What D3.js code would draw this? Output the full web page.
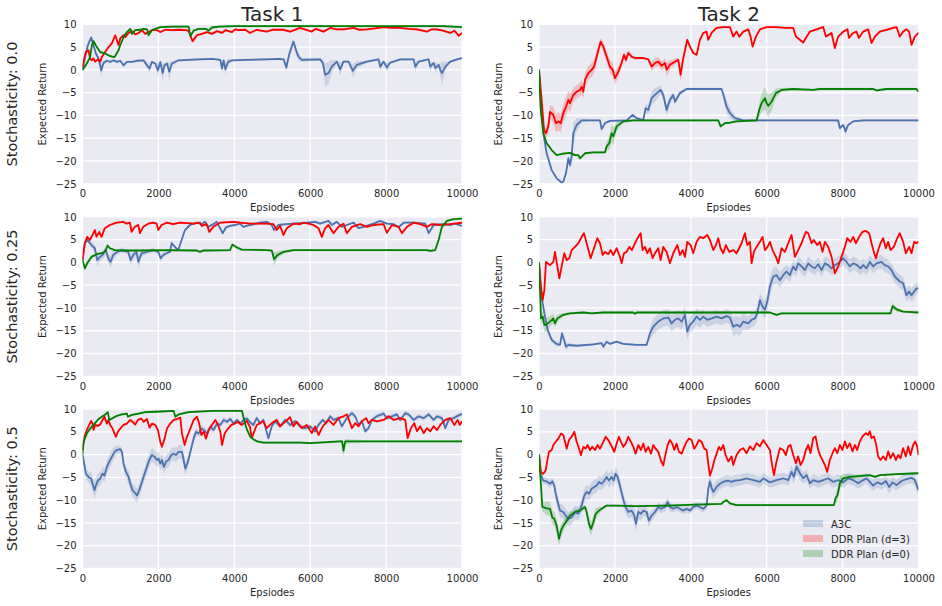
<!DOCTYPE html>
<html>
<head>
<meta charset="utf-8">
<script src="https://cdn.jsdelivr.net/npm/d3@7"></script>
<style>
  body { margin: 0; background: #fff; }
  text { font-family: "DejaVu Sans", sans-serif; fill: #262626; }
</style>
</head>
<body>
<div id="chart-area"></div>
<script>
// axis ticks and labels
var xTicks = [0, 2000, 4000, 6000, 8000, 10000];
var yTicks = [-25, -20, -15, -10, -5, 0, 5, 10];
var taskTitles = ["Task 1", "Task 2"];
var rowLabels = ["Stochasticity: 0.0", "Stochasticity: 0.25", "Stochasticity: 0.5"];
var seriesNames = ["A3C", "DDR Plan (d=3)", "DDR Plan (d=0)"];
var seriesColors = ["#4c72b0", "#ff0000", "#008000"];

// [episode, mean return, band half-width]
var a3c_s00_t1 = [[0,0,.2],[70,2.8,.5],[141,5.4,.8],[229,7.1,.5],[290,5.4,.5],[352,3.6,.4],[422,2.5,.4],[493,-0.1,1.5],[554,1.5,.6],[642,2.0],[730,1.75],[818,2.1],[906,1.75],[994,2.0],[1082,1.0,.5],[1170,1.75],[1302,1.75],[1434,2.0],[1610,2.1],[1698,1.0,.8],[1768,0.3,1],[1829,1.75],[1917,1.4],[1988,-0.1,1.5],[2050,1.75],[2111,-0.7,2],[2164,1.0,.6],[2225,1.4],[2287,-0.4,2],[2357,1.4,.5],[2533,2.1],[2797,2.2],[3060,2.3],[3412,2.4],[3632,2.2],[3676,0.3,1.2],[3720,2.1],[3764,0.1,1.2],[3835,1.75,.8],[3940,2.1],[4292,2.2],[4820,2.3],[5172,2.4],[5300,2.3],[5370,0.5,1],[5450,3.5,.8],[5558,6.2,.5],[5640,4.0,.8],[5690,2.9,.8],[5778,2.2,.5],[6262,2.3],[6332,1.5,.8],[6394,-1.1,2.5],[6482,-0.7,2.5],[6570,0.7,1.5],[6702,1.8],[6790,0.1,1.5],[6878,1.8],[7010,1.8],[7124,-0.2,1.5],[7230,1.1,.8],[7493,1.8],[7801,2.3],[7845,0.7,1],[7933,1.8],[8021,0.5,1],[8109,1.6],[8373,2.3],[8725,2.3],[8769,0.7,1],[8857,1.8],[9120,2.3],[9164,0.7,1],[9252,1.5],[9296,0.4,1.2],[9384,1.1],[9428,0,1.5],[9472,-0.7,2.5],[9560,0.7,1],[9692,1.8],[9868,2.3],[10000,2.6]];
var plan3_s00_t1 = [[0,0.6],[53,2.8],[88,3.9],[158,4.3],[200,2.5],[246,2.1],[290,2.5],[334,1.8],[404,2.3],[466,1.8],[510,2.8],[598,3.9],[686,5.0],[774,5.8],[862,7.6],[906,6.5],[950,5.4],[994,6.9],[1082,7.6],[1126,7.2],[1214,8.1],[1302,8.5],[1390,7.8],[1478,8.1],[1566,8.7],[1654,7.9],[1741,8.3],[1829,8.7],[1961,8.7],[2050,8.3],[2181,8.8],[2357,8.7],[2533,8.8],[2709,8.7],[2790,8.6],[2841,7.6,.4],[2900,6.3,.5],[3016,7.6],[3148,7.9],[3280,8.3],[3412,7.9],[3544,8.5],[3676,8.1],[3764,8.7],[3940,8.3],[4019,8.9],[4116,8.7],[4292,8.8],[4415,8.1],[4591,8.8],[4855,8.4],[5000,8.8],[5295,8.8],[5470,8.4],[5734,9.2],[6042,8.4],[6150,9.0],[6350,8.4],[6526,9.2],[6700,8.9],[6878,8.9],[7142,9.2],[7300,8.8],[7493,8.9],[7700,9.1],[7933,9.4],[8150,9.2],[8373,9.2],[8600,9.0],[8813,8.9],[9077,8.4],[9200,8.9],[9340,8.9],[9500,8.6],[9692,8.1],[9800,8.6],[9912,7.5],[10000,8.1]];
var plan0_s00_t1 = [[0,0],[114,1.4],[200,2.8],[246,5.4],[290,6.3],[378,5.0],[466,3.9],[598,3.6],[730,3.0],[844,2.8],[906,3.7],[950,4.3],[994,5.4],[1082,7.2],[1170,8.3],[1258,9.0],[1302,7.9],[1390,8.7],[1522,8.8],[1610,9.0],[1700,8.9],[1741,7.6],[1829,8.7],[1917,9.0],[2050,9.4],[2400,9.5],[2797,9.5],[2841,7.4,.4],[2929,8.6],[3060,9.0],[3250,9.0],[3325,8.6],[3412,9.3],[3600,9.5],[4000,9.6],[6000,9.6],[8000,9.6],[9500,9.6],[10000,9.4]];

var a3c_s00_t2 = [[0,0],[44,-6.6],[114,-13.9],[202,-18.3],[334,-22],[465,-23.8],[597,-24.7],[641,-24.5],[711,-22.7,.5],[773,-19.4,.8],[817,-20.9,1],[860,-19,1.5],[904,-13.9,2.5],[992,-12.1,1.5],[1124,-11.1,.5],[1343,-11.1],[1607,-11.1],[1651,-13.0,.5],[1738,-11.7],[1870,-11.2],[2309,-11.1],[2467,-9.9],[2572,-10.6],[2748,-11.0],[2809,-8.4,1],[2880,-8.8,1],[2967,-6.2,1.5],[3055,-5.5,1.5],[3204,-4.4,1],[3275,-5.5,1],[3363,-8.8,1.2],[3450,-6.6,1],[3538,-5.5,.6],[3582,-7.0,.6],[3714,-5.1,.5],[3889,-4.2],[4328,-4.2],[4811,-4.2],[4873,-5.9,1],[4943,-8.1,1.5],[5031,-9.5,1.2],[5162,-10.6,.6],[5382,-11.1],[7884,-11.1],[7928,-12.8,.6],[8016,-12.1],[8077,-13.5,1],[8147,-12.1],[8279,-11.3],[8543,-11.1],[10000,-11.1]];
var plan3_s00_t2 = [[0,0,.3],[70,-6.6,.8],[132,-13.2,1],[184,-13.9,1.2],[246,-12.4,1.5],[290,-9.2,1.5],[378,-9.9,1.8],[448,-11.7,2],[509,-11.3,2],[571,-11.7,2],[641,-9.5,2],[711,-8.1,2],[773,-6.6,2],[817,-7.3,2],[904,-5.5,1.5],[992,-4.8,1.5],[1080,-4.4,1.5],[1124,-3.7,1.5],[1168,-4.8,1.5],[1212,-2.2,1.5],[1299,-0.7,1.5],[1387,0,1.5],[1449,0.7,1.5],[1519,2.9,1.5],[1624,6.2,.8],[1694,5.1,1],[1782,2.9,1.2],[1870,0.7,1.5],[1940,0,1.5],[2002,-1.8,1.5],[2090,-0.4,1.2],[2177,1.5,1],[2239,3.3,.8],[2292,2.2,.8],[2353,3.7,.6],[2441,2.9,.4],[2529,2.6,.3],[2748,2.6],[2880,2.3],[2967,0.7,1],[3055,1.5,1],[3143,1.8,1],[3231,0.9,1],[3319,1.5,1],[3363,0,1.5],[3450,1.1,1],[3582,1.8,.6],[3670,2.2,.5],[3731,-1.1,1.5],[3802,2.6,1],[3907,6.6,.5],[3977,5.1],[4065,3.7],[4153,3.3],[4241,6.6],[4328,8.1],[4416,8.4],[4460,6.6],[4548,8.1],[4680,9.2],[4855,9.4],[5031,9.4],[5119,7.3],[5206,8.4],[5277,7.3],[5382,8.4],[5514,8.9],[5575,7.3],[5628,5.1,.5],[5716,7.3],[5822,8.9],[5997,9.4],[6260,9.4],[6479,9.2],[6699,9.2],[6769,7.3],[6874,6.6],[6962,6.0],[7032,7.0],[7138,8.4],[7313,8.9],[7489,9.4],[7559,7.3],[7709,8.1],[7796,4.8,.5],[7884,7.3],[8016,8.4],[8130,8.9],[8165,7.0],[8279,8.1],[8367,8.4],[8428,7.0],[8543,8.4],[8674,8.9],[8762,5.9],[8850,7.3],[8982,8.4],[9157,8.8],[9333,9.2],[9420,9.4],[9508,7.3],[9596,8.4],[9684,8.9],[9754,8.4],[9816,5.5],[9903,7.3],[10000,8.1]];
var plan0_s00_t2 = [[0,0],[44,-8.8,.5],[114,-13.9,.5],[202,-16.1,.4],[334,-17.6],[465,-18.7],[641,-18.4],[817,-18.2],[948,-18.7],[1036,-18.7],[1080,-19.4],[1212,-18.3],[1431,-18.1],[1738,-18.1],[1782,-16.8,1],[1852,-16.1,1.5],[1914,-13.9,2],[1958,-14.6,2],[2046,-12.4,1],[2221,-11.3,.4],[2485,-11.1],[4723,-11.1],[4785,-12.4,.4],[4899,-11.7],[5031,-11.6],[5206,-11.3],[5733,-11.1],[5803,-8.8,1.5],[5865,-7.3,2],[5953,-6.2,2.5],[5997,-7.3,2.5],[6040,-7.9,2.5],[6128,-7.0,2],[6242,-5.1,1],[6392,-4.4,.4],[6699,-4.2],[7226,-4.4],[7401,-4.2],[8806,-4.2],[8894,-4.5],[9157,-4.2],[9947,-4.2],[10000,-4.8]];

var a3c_s25_t1 = [[0,0.5,.3],[62,4.2,.5],[123,5.0,.5],[237,3.8,.6],[325,3.1,.8],[387,0.5,1.5],[457,1.2,1],[528,1.6,1],[615,2.7,.8],[677,0.9,1],[739,0.1,1.3],[809,1.6,1],[914,2.3,.6],[1029,2.7,.5],[1205,2.3,.5],[1266,0.5,1.2],[1337,1.6,1],[1425,2.3,.8],[1469,0.1,1.5],[1557,2.0,.8],[1689,2.3,.5],[1865,2.7,.4],[1997,2.3],[2058,0.9,.8],[2128,1.6,.6],[2216,2.0],[2304,2.3],[2348,4.2,.5],[2436,3.4],[2524,2.7],[2612,4.9],[2700,7.1],[2832,8.2],[3008,8.7],[3140,8.4],[3228,8.9],[3316,7.8],[3448,8.4],[3536,8.9],[3624,7.5],[3694,6.4],[3782,7.7],[3887,8.0],[4019,8.2],[4151,8.5],[4239,7.8],[4415,8.2],[4679,8.7],[4855,8.9],[4987,8.2],[5048,7.1],[5163,8.2],[5383,8.4],[5558,8.5],[5910,8.7],[6130,8.9],[6262,8.5],[6482,9.1],[6570,8.2],[6702,8.9],[6834,7.8],[6966,8.2],[7142,8.7],[7274,7.5],[7405,7.8],[7669,8.5],[7845,9.1],[8021,8.5],[8197,8.4],[8329,7.7],[8461,8.7],[8725,8.7],[9033,8.5],[9121,6.4],[9252,8.2],[9516,8.4],[9692,8.2],[9824,8.5],[10000,8.0]];
var plan3_s25_t1 = [[0,0.5],[62,4.2],[123,5.6],[193,4.9],[264,6.0],[325,7.1],[369,5.6],[440,6.7],[501,5.6],[589,7.5],[721,8.2],[897,8.7],[1073,8.9],[1161,8.5],[1249,8.7],[1293,6.7],[1381,7.8],[1469,8.2],[1513,6.4],[1601,7.8],[1733,8.5],[1865,8.7],[1953,8.5],[1997,7.1],[2084,8.2],[2216,8.7],[2392,8.4],[2568,8.7],[2920,8.5],[3096,8.7],[3140,8.0],[3272,8.4],[3342,6.7],[3448,7.8],[3624,8.7],[3975,8.9],[4151,8.7],[4415,8.5],[4855,8.5],[5031,8.4],[5119,7.1],[5207,8.0],[5295,6.0],[5383,7.5],[5558,8.5],[5734,8.4],[5822,8.7],[5954,8.5],[6086,8.2],[6218,7.5],[6306,5.6,.4],[6394,7.5],[6482,8.2],[6614,6.4],[6746,7.8],[6878,8.5],[6966,6.4],[7098,7.8],[7318,8.4],[7493,7.8],[7669,8.2],[7933,8.4],[8021,6.5],[8153,8.2],[8329,7.8],[8417,6.4],[8549,7.8],[8725,8.7],[8901,8.4],[9077,7.8],[9208,8.4],[9428,8.2],[9692,8.4],[10000,8.7]];
var plan0_s25_t1 = [[0,0.5],[62,-1.3,.8],[123,-0.2,.6],[237,1.2,.4],[369,1.8],[545,2.1],[615,2.7],[660,3.7],[721,3.1],[853,2.7],[1073,2.6],[1513,2.6],[2216,2.7],[3008,2.6],[3096,2.3],[3184,2.6],[3887,2.7],[3949,3.9],[4063,3.3],[4195,2.8],[4855,2.7],[4987,2.6],[5048,0.7,1.5],[5136,1.6,.8],[5295,2.3,.4],[5558,2.7],[6614,2.7],[9077,2.7],[9164,2.5],[9296,2.7],[9384,4.9],[9472,7.8],[9604,9.1],[9780,9.5],[10000,9.6]];

var a3c_s25_t2 = [[0,0],[44,-6.1,.5],[97,-9.0,.8],[158,-11.9,.8],[228,-14.8,.8],[334,-17.0,.6],[465,-17.9,.5],[553,-18.1],[606,-15.6,.8],[659,-17.0,.8],[711,-18.5,.8],[773,-18.1,.5],[992,-18.3],[1431,-18.0],[1651,-17.7],[1694,-18.5,.5],[1782,-17.4],[1870,-17.9],[2046,-17.4],[2221,-17.9],[2572,-18.1],[2836,-18.1],[2924,-15.6,1.2],[3011,-14.1,1.8],[3143,-13.0,1.8],[3275,-12.3,1.8],[3407,-12.1,1.8],[3494,-13.4,1.8],[3582,-12.6,1.8],[3670,-12.3,1.8],[3758,-13.0,1.8],[3846,-11.5,1.8],[3907,-15.2,1.8],[3977,-13.7,1.8],[4065,-13.0,1.8],[4153,-11.9,1.8],[4241,-12.6,1.8],[4328,-11.9,1.5],[4434,-12.6,1.5],[4548,-12.3,1.5],[4680,-11.9,1.5],[4811,-12.3,1.5],[4943,-11.8,1.5],[5031,-12.1,1.5],[5119,-14.1,2],[5206,-13.7,2],[5294,-14.1,2],[5382,-13.0,1.8],[5514,-13.4,1.5],[5602,-12.6,1.5],[5690,-12.3,1.5],[5751,-11.2,1.5],[5821,-8.3,1.5],[5891,-9.7,1.8],[5953,-10.4,2],[6023,-8.3,2],[6084,-5.3,2],[6172,-3.1,2],[6260,-2.8,1.8],[6348,-3.9,1.8],[6435,-2.8,1.5],[6523,-2.0,1.5],[6611,-2.8,1.5],[6699,-0.9,1.5],[6769,-1.7,1.5],[6830,-0.2,1.5],[6918,-0.9,1.5],[7006,-1.7,1.5],[7094,-0.2,1.5],[7182,-0.9,1.5],[7270,-1.3,1.5],[7357,-0.4,1.5],[7445,-1.7,1.5],[7533,-0.2,1.5],[7621,-0.6,1.5],[7709,-1.3,1.5],[7796,-0.6,1.5],[7884,-0.2,1.5],[8016,0.9,1.5],[8104,0.1,1.5],[8191,-0.9,1.5],[8279,-0.2,1.5],[8384,-0.6,1.5],[8472,-1.3,1.5],[8543,-0.6,1.5],[8630,-1.3,1.5],[8718,0.1,1.5],[8806,-0.9,1.5],[8894,-0.2,1.5],[9025,0.1,1.5],[9113,-0.6,1.5],[9201,-0.9,1.5],[9289,-1.7,1.5],[9376,-3.1,1.5],[9508,-4.2,1.5],[9596,-4.6,1.5],[9684,-7.2,1.5],[9754,-6.4,1.5],[9816,-7.2,1.5],[9886,-6.4,1.5],[9947,-5.7,1.2],[10000,-5.7,1]];
var plan3_s25_t2 = [[0,0],[53,-5.3],[97,-8.3,.5],[140,-6.1],[184,0.1],[290,-0.6],[378,0.1],[421,2.3],[483,-0.9],[536,-3.5],[597,-0.9],[667,2.0],[729,0.5],[799,0.9],[860,2.7],[948,3.4],[1036,4.2],[1124,5.6],[1185,6.4],[1256,4.2],[1361,0.9],[1449,3.1],[1536,5.3],[1607,4.2],[1677,1.6],[1738,2.3],[1826,1.8],[1888,2.7],[1958,1.6],[2046,3.1],[2133,1.2],[2177,-0.2],[2239,2.0],[2309,2.3],[2379,3.4],[2449,2.7],[2529,4.2],[2616,5.6],[2678,6.4],[2730,2.7],[2792,3.4],[2853,2.0],[2924,3.1],[2994,0.9],[3055,2.0],[3143,3.1],[3205,0.5],[3275,3.4],[3363,2.3],[3450,-0.2],[3538,2.0],[3644,3.8],[3714,1.6],[3784,2.7],[3846,1.2],[3907,4.5],[3995,3.8],[4065,2.0],[4153,4.5],[4241,5.6],[4328,5.3],[4434,6.0],[4504,4.9],[4592,2.7],[4662,3.8],[4723,5.3],[4785,3.1],[4855,2.0],[4925,3.8],[5013,2.3],[5119,2.7],[5206,2.0],[5338,4.2],[5426,6.4],[5487,3.8],[5558,4.5],[5602,-0.2],[5663,2.3],[5733,3.4],[5821,4.5],[5891,5.6],[5953,2.7],[6023,3.4],[6084,4.5],[6154,2.7],[6242,1.2],[6304,-0.2],[6392,3.1],[6479,2.3],[6567,4.2],[6655,6.0],[6743,1.2],[6830,2.7],[6918,4.2],[7032,6.7],[7094,6.4],[7182,4.2],[7243,4.9],[7331,3.8],[7401,4.5],[7471,2.3],[7533,4.5],[7621,3.4],[7709,1.2],[7796,-2.4,.5],[7884,-0.9],[7972,1.2],[8060,3.4],[8121,5.3],[8209,4.5],[8279,5.6],[8349,4.2],[8437,5.6],[8525,6.7],[8613,6.9],[8701,6.4],[8762,4.2],[8823,2.3],[8876,0.9],[8938,2.7],[8999,4.2],[9069,5.3],[9139,3.1],[9201,4.5],[9262,2.7],[9350,3.4],[9438,5.3],[9508,6.4],[9596,4.5],[9666,2.0],[9754,3.4],[9816,2.0],[9886,4.5],[9947,4.2],[10000,4.5]];
var plan0_s25_t2 = [[0,0],[26,-6.1,.5],[53,-12.3,1],[97,-11.9,1.2],[140,-13.7,1.5],[184,-13.7,1.5],[290,-13.0,1.2],[378,-12.3,1],[421,-13.4,1],[483,-12.3,.8],[641,-11.5,.4],[817,-11.2],[1168,-11.0],[1387,-11.2],[1694,-11.0],[2485,-11.0],[2529,-11.3],[2572,-11.0],[6084,-11.0],[6260,-11.5],[6392,-11.2],[9157,-11.2],[9262,-11.2],[9315,-9.6,.8],[9420,-10.3,.5],[9596,-10.8],[10000,-11.0]];

var a3c_s50_t1 = [[0,0,.5],[53,-2.4,1],[88,-4.2,1.2],[158,-4.9,1.2],[229,-5.3,1.5],[264,-6.4,1.5],[317,-7.8,2],[352,-6.8,1.8],[404,-5.7,1.5],[466,-5.3,1.5],[528,-4.2,1.5],[580,-4.6,1.5],[642,-2.7,1.5],[704,-1.6,1.5],[774,-0.5,1.5],[844,0.6,1.2],[906,1.0,1],[994,1.2,.8],[1038,0.6,.8],[1082,-2.0,1],[1143,-3.8,1.2],[1214,-4.9,1.5],[1258,-6.4,1.5],[1319,-7.8,1.5],[1390,-8.5,1.5],[1434,-9.0,1.5],[1495,-7.8,1.5],[1566,-6.0,1.5],[1636,-4.2,1.5],[1698,-2.7,1.5],[1759,-1.2,1.5],[1829,-0.1,1.5],[1900,-0.5,1.5],[1961,-1.2,1.5],[2005,-0.9,1.5],[2050,-2.0,1.5],[2093,-1.2,1.5],[2146,-2.7,1.5],[2199,-1.6,1.5],[2269,-1.2,1.5],[2340,-0.1,1.5],[2401,0.2,1.5],[2463,-0.1,1.5],[2533,0.6,1.5],[2621,0.6,1.5],[2665,-1.2,1.5],[2709,-3.1,1.5],[2779,-1.6,1.2],[2841,0.6,1],[2929,3.5,1],[2991,5.0,.8],[3060,4.6,.8],[3131,5.7,.8],[3193,5.4,.8],[3280,4.6,.8],[3368,6.1,.8],[3456,5.4,.8],[3544,6.8,.6],[3632,6.5,.6],[3720,7.6,.6],[3808,7.2,.6],[3896,7.8,.5],[3984,6.8,.5],[4072,7.6,.5],[4160,6.8,.5],[4248,7.6,.5],[4336,7.9,.5],[4398,7.2,.5],[4503,6.5,.5],[4591,8.0,.5],[4679,6.9,.5],[4767,7.6,.5],[4899,3.6,.6],[4987,6.2,.5],[5075,7.3,.5],[5207,6.2,.5],[5339,7.6,.5],[5470,6.5,.5],[5602,7.3,.5],[5734,6.2,.5],[5866,5.8,.5],[5998,6.2,.5],[6130,5.1,.5],[6218,6.5,.5],[6332,7.6,.5],[6420,6.9,.5],[6526,8.4,.5],[6614,7.6,.5],[6746,8.0,.5],[6834,6.2,.5],[6966,8.0,.5],[7098,9.1,.5],[7186,8.4,.5],[7274,6.5,.5],[7362,7.3,.5],[7449,5.1,.5],[7537,5.8,.5],[7625,7.6,.5],[7757,8.4,.5],[7933,9.0,.5],[8021,8.0,.5],[8153,8.4,.5],[8285,8.8,.5],[8373,7.6,.5],[8505,9.1,.5],[8593,8.8,.5],[8725,7.6,.5],[8857,8.4,.5],[8989,8.0,.5],[9121,8.8,.5],[9252,7.6,.5],[9340,8.4,.5],[9472,8.0,.5],[9560,5.8,.5],[9648,7.6,.5],[9780,8.0,.5],[9912,8.6,.5],[10000,8.9,.5]];
var plan3_s50_t1 = [[0,1.0],[53,3.9],[114,5.4],[176,6.5],[229,7.4],[264,6.8],[290,5.4],[334,6.5],[404,6.3],[466,6.6],[528,7.6],[580,8.3],[642,6.8],[686,7.6],[730,6.5],[792,5.7],[844,4.6],[880,3.9],[932,5.0],[994,5.7],[1082,6.5],[1170,6.8],[1258,7.6],[1319,7.2],[1390,6.6],[1460,7.6],[1548,7.9],[1610,7.2],[1698,7.8],[1768,5.9],[1829,6.8],[1917,6.5],[1988,5.4],[2050,2.8,.4],[2093,1.7,.5],[2164,3.5],[2225,5.7],[2313,6.8],[2401,7.6],[2489,7.8],[2577,8.1],[2621,4.6],[2691,2.1,.4],[2753,3.9],[2841,5.7],[2929,7.6],[3016,8.3],[3078,6.8],[3131,4.3],[3193,5.0],[3254,3.5],[3324,5.4],[3412,6.5],[3500,7.6],[3570,6.5],[3632,5.0],[3676,2.1,.5],[3746,4.6],[3835,5.7],[3923,6.5],[4011,6.8],[4099,7.2],[4187,6.5],[4248,6.8],[4330,7.4],[4415,6.0],[4459,3.6],[4591,6.5],[4767,7.3],[4855,5.8],[4987,6.9],[5119,7.6],[5207,6.2],[5339,7.2],[5470,8.2],[5558,6.2],[5646,7.2],[5778,5.8],[5910,6.5],[6042,4.7],[6130,6.2],[6218,4.3],[6332,6.2],[6482,7.6],[6614,6.5],[6746,8.0],[6878,8.4],[6966,8.8],[7036,7.3],[7098,5.8],[7186,6.9],[7274,6.2],[7362,7.3],[7476,8.0],[7537,6.9],[7625,7.6],[7757,7.3],[7933,7.6],[8065,8.4],[8197,7.6],[8373,8.0],[8505,7.6],[8566,3.6],[8654,5.8],[8742,6.9],[8813,5.1],[8901,6.2],[8989,4.7],[9077,5.8],[9164,5.1],[9252,6.2],[9340,5.4],[9428,6.5],[9560,7.6],[9692,8.0],[9798,6.5],[9886,7.6],[9938,6.5],[10000,7.3]];
var plan0_s50_t1 = [[0,0],[26,2.8],[114,4.6],[202,5.7],[317,6.8],[422,7.8],[510,8.3],[598,8.8],[668,9.3],[704,7.6],[774,7.9],[906,8.5],[1038,8.8],[1170,9.0],[1196,8.3],[1302,8.7],[1478,9.0],[1654,9.3],[1917,9.4],[2401,9.6],[2445,8.3],[2533,8.8],[2797,9.3],[3412,9.6],[4204,9.6],[4248,7.9],[4336,5.4],[4424,3.9],[4512,3.3],[4600,2.9],[4767,2.6],[5734,2.6],[5998,2.5],[6790,2.9],[6840,2.9],[6878,0.8,1.5],[6922,2.9,.5],[7493,2.9],[10000,2.9]];

var a3c_s50_t2 = [[0,0],[35,-3.8,.8],[70,-4.9,.8],[114,-5.7,.8],[202,-5.9,.8],[290,-6.4,.8],[351,-5.9,.8],[404,-6.8,1],[439,-8.6,1.2],[492,-10.4,1.5],[553,-12.3,1.5],[641,-12.6,1.5],[702,-13.4,1.5],[773,-14.1,1.5],[860,-13.8,1.5],[948,-12.6,1.5],[1036,-13.0,1.5],[1124,-11.2,1.5],[1194,-9.0,1.5],[1255,-8.2,1.5],[1317,-8.6,1.5],[1387,-7.5,1.5],[1457,-7.1,1.5],[1519,-6.8,1.5],[1580,-6.0,1.5],[1650,-6.4,1.5],[1721,-5.7,1.5],[1782,-4.9,1.5],[1844,-5.7,1.5],[1914,-4.9,1.5],[1967,-5.7,1.5],[2019,-4.2,1.5],[2072,-4.9,1.5],[2133,-6.8,1.5],[2195,-9.0,1.5],[2265,-11.2,1.5],[2353,-12.6,1.5],[2441,-12.3,1.5],[2511,-13.4,1.5],[2555,-15.2,1.8],[2616,-12.6,1.5],[2687,-13.0,1.5],[2748,-12.3,1.2],[2836,-12.6,1.2],[2897,-14.5,1.5],[2968,-13.4,1.2],[3055,-12.6,1],[3143,-11.5,1],[3213,-11.9,1],[3319,-11.5,1],[3389,-10.4,1],[3450,-11.5,1],[3538,-11.9,.8],[3626,-11.5,.8],[3714,-11.9,.8],[3802,-12.3,.8],[3889,-11.9,.8],[3977,-12.3,.8],[4065,-11.5,.8],[4153,-11.2,.8],[4241,-11.5,.8],[4328,-11.9,.8],[4416,-11.2,.8],[4460,-7.5,1.2],[4504,-5.9,1.5],[4548,-7.3,1.5],[4592,-8.2,1.5],[4680,-7.1,1.5],[4767,-6.4,1.2],[4855,-6.0,1.2],[4970,-5.7,1.2],[5075,-6.0,1.2],[5162,-5.7,1.2],[5294,-5.6,1.2],[5470,-5.2,1.2],[5646,-5.6,1.2],[5821,-6.0,1.2],[5909,-5.2,1.2],[6084,-6.1,1.2],[6260,-5.6,1.2],[6435,-5.2,1.2],[6567,-5.6,1.2],[6655,-3.8,1.5],[6716,-4.9,1.5],[6787,-2.6,1.8],[6874,-4.1,1.5],[6962,-5.2,1.2],[7050,-4.5,1.2],[7138,-6.3,1.2],[7226,-5.6,1.2],[7357,-6.0,1.2],[7489,-5.6,1.2],[7621,-5.2,1.2],[7752,-6.0,1.2],[7884,-5.6,1.2],[8016,-6.1,1.2],[8147,-5.2,1.2],[8279,-5.6,1.2],[8411,-6.3,1.2],[8543,-5.6,1.2],[8630,-5.2,1.2],[8718,-6.0,1.2],[8806,-6.8,1.2],[8911,-6.1,1.2],[9025,-6.5,1.2],[9139,-5.8,1.2],[9227,-7.1,1.5],[9315,-6.1,1.2],[9420,-6.7,1.2],[9552,-5.8,1.2],[9684,-5.4,1.2],[9816,-5.1,1.2],[9903,-5.6,1.2],[10000,-7.8,1.5]];
var plan3_s50_t2 = [[0,0],[53,-3.8],[114,-4.2],[176,-3.5],[228,-0.9],[263,0.6],[334,1.0],[378,2.1],[439,2.8],[509,3.5],[579,4.6],[641,4.3],[685,2.8],[729,1.3],[790,3.2],[860,3.9],[931,5.0],[992,2.8],[1054,1.3],[1106,-0.1],[1168,1.7],[1229,1.3],[1282,2.1],[1343,1.0],[1405,1.7],[1475,1.0],[1545,2.1],[1607,1.3],[1694,2.8],[1756,3.9],[1826,3.2],[1896,2.1],[1984,0.6],[2046,2.4],[2107,3.9],[2160,2.8],[2221,1.7],[2283,2.4],[2353,3.9],[2423,2.8],[2485,1.7],[2546,0.2],[2616,2.1],[2687,1.0],[2748,2.4],[2810,0.6],[2880,1.7],[2950,0.2],[3011,2.1],[3073,1.3],[3143,0.6],[3213,-1.3],[3275,-2.4],[3319,-0.5],[3389,2.1],[3450,3.2],[3512,2.4],[3565,1.0],[3626,2.4],[3687,0.6],[3758,0.2],[3828,1.7],[3889,2.8],[3951,3.5],[4021,3.2],[4091,1.3],[4153,2.1],[4214,3.2],[4284,2.8],[4355,1.3],[4416,1.0],[4460,-2.0],[4504,-4.6,.5],[4565,-3.1],[4618,-1.3],[4680,0.2],[4741,1.7],[4794,1.0],[4855,2.1],[4917,-0.1],[4987,-1.5],[5075,-0.4],[5119,-2.3],[5206,-0.1],[5294,1.0],[5382,1.4],[5470,0.3],[5558,1.8],[5646,1.0],[5733,2.5],[5821,1.8],[5909,3.2],[5997,2.1],[6084,1.0],[6128,-1.5],[6190,-4.5,.5],[6260,-1.5],[6348,1.4],[6435,1.0],[6506,-0.1],[6567,1.8],[6628,2.1],[6699,-0.1],[6769,-1.9],[6830,-0.4],[6892,-2.3],[6962,-1.2],[7032,1.0],[7094,2.1],[7155,0.3],[7226,3.6],[7287,4.0],[7357,1.0],[7419,-0.4],[7471,-1.2],[7533,-2.3],[7594,-3.8],[7665,-1.2],[7735,0.3],[7796,1.4],[7858,0.3],[7928,2.1],[7998,1.0],[8060,2.9],[8121,1.4],[8191,2.5],[8262,0.7],[8323,2.1],[8384,1.0],[8455,2.9],[8525,4.0],[8613,4.7],[8674,4.3],[8718,5.1],[8762,3.6],[8823,4.0],[8876,2.5],[8938,-0.4],[8999,-1.2],[9069,-0.4],[9139,-1.2],[9201,0.7],[9262,-0.8],[9333,0.3],[9403,-1.2],[9464,-0.1],[9525,-0.8],[9596,1.4],[9666,-0.4],[9728,1.8],[9789,-0.1],[9859,2.1],[9912,2.9],[9965,1.8],[10000,-0.1]];
var plan0_s50_t2 = [[0,0],[35,-4.6,.5],[88,-11.5,1],[202,-11.8,1.5],[290,-11.9,1.5],[351,-13.8,1.5],[404,-14.1,1.5],[465,-15.6,1.5],[527,-18.5,1.5],[580,-16.7,1.5],[641,-15.6,1.2],[729,-14.5,1],[817,-13.4,.8],[948,-12.6,.6],[1080,-12.3,.5],[1212,-11.5,.5],[1255,-12.6,1],[1317,-15.2,1.5],[1370,-16.3,1.5],[1431,-14.9,1.5],[1493,-13.0,1.2],[1580,-12.3,.8],[1651,-11.9,.5],[1782,-11.2],[2002,-11.2],[2529,-11.3],[3407,-11.2],[4109,-11.0],[4811,-10.8],[4855,-10.4],[4943,-10.0],[5031,-10.7],[5206,-11.1],[5646,-11.1],[7665,-11.1],[7770,-11.1],[7814,-9.6,1],[7867,-8.9,1.5],[7928,-6.3,1.5],[8016,-5.2,1],[8191,-4.9,.5],[8718,-4.5],[8850,-4.9],[8982,-4.5],[9420,-4.3],[10000,-4.1]];

// grid of panels: row = stochasticity, col = task
var panels = [
  { row: 0, col: 0, series: [a3c_s00_t1, plan3_s00_t1, plan0_s00_t1] },
  { row: 0, col: 1, series: [a3c_s00_t2, plan3_s00_t2, plan0_s00_t2] },
  { row: 1, col: 0, series: [a3c_s25_t1, plan3_s25_t1, plan0_s25_t1] },
  { row: 1, col: 1, series: [a3c_s25_t2, plan3_s25_t2, plan0_s25_t2] },
  { row: 2, col: 0, series: [a3c_s50_t1, plan3_s50_t1, plan0_s50_t1] },
  { row: 2, col: 1, series: [a3c_s50_t2, plan3_s50_t2, plan0_s50_t2] }
];

var colLeft = [82.5, 539];
var rowTop = [24.3, 216.8, 409];
var pw = 379.5, ph = 159.5;

var svg = d3.select("#chart-area").append("svg")
    .attr("width", 942)
    .attr("height", 606);

var x = d3.scaleLinear().domain([0, 10000]).range([0, pw]);
var y = d3.scaleLinear().domain([-25, 10]).range([ph, 0]);

var line = d3.line()
    .x(function (d) { return x(d[0]); })
    .y(function (d) { return y(d[1]); });

var band = d3.area()
    .x(function (d) { return x(d[0]); })
    .y0(function (d) { return y(d[1] - (d[2] === undefined ? 0.25 : d[2])); })
    .y1(function (d) { return y(d[1] + (d[2] === undefined ? 0.25 : d[2])); });

var fmt = function (d) { return d < 0 ? "\u2212" + Math.abs(d) : String(d); };

svg.append("defs").append("clipPath").attr("id", "clip")
    .append("rect").attr("width", pw).attr("height", ph);

panels.forEach(function (p) {
    var g = svg.append("g")
        .attr("transform", "translate(" + colLeft[p.col] + "," + rowTop[p.row] + ")");

    g.append("rect").attr("width", pw).attr("height", ph).attr("fill", "#eaeaf2");

    // grid
    g.selectAll(".gx").data(xTicks).enter().append("line")
        .attr("x1", function (d) { return x(d); }).attr("x2", function (d) { return x(d); })
        .attr("y1", 0).attr("y2", ph)
        .attr("stroke", "#fff").attr("stroke-width", 1.3);
    g.selectAll(".gy").data(yTicks).enter().append("line")
        .attr("x1", 0).attr("x2", pw)
        .attr("y1", function (d) { return y(d); }).attr("y2", function (d) { return y(d); })
        .attr("stroke", "#fff").attr("stroke-width", 1.3);

    // axes
    var xa = g.append("g").attr("transform", "translate(0," + ph + ")")
        .call(d3.axisBottom(x).tickValues(xTicks).tickSize(0).tickPadding(6.5).tickFormat(fmt));
    var ya = g.append("g")
        .call(d3.axisLeft(y).tickValues(yTicks).tickSize(0).tickPadding(6).tickFormat(fmt));
    [xa, ya].forEach(function (a) {
        a.select(".domain").remove();
        a.selectAll("text").attr("font-size", 10).attr("font-family", "DejaVu Sans").attr("fill", "#262626");
    });

    // bands then lines
    var plot = g.append("g").attr("clip-path", "url(#clip)");
    p.series.forEach(function (s, i) {
        plot.append("path").datum(s)
            .attr("d", band)
            .attr("fill", seriesColors[i])
            .attr("fill-opacity", 0.2);
    });
    p.series.forEach(function (s, i) {
        plot.append("path").datum(s)
            .attr("d", line)
            .attr("fill", "none")
            .attr("stroke", seriesColors[i])
            .attr("stroke-width", 1.8)
            .attr("stroke-linejoin", "round");
    });

    // labels
    g.append("text")
        .attr("transform", "translate(-37," + (ph / 2) + ") rotate(-90)")
        .attr("text-anchor", "middle")
        .attr("font-size", 10)
        .text("Expected Return");
    g.append("text")
        .attr("x", pw / 2).attr("y", ph + 27.7)
        .attr("text-anchor", "middle")
        .attr("font-size", 10)
        .text("Epsiodes");

    if (p.row === 0) {
        g.append("text")
            .attr("x", pw / 2).attr("y", -3)
            .attr("text-anchor", "middle")
            .attr("font-size", 20)
            .text(taskTitles[p.col]);
    }
    if (p.col === 0) {
        svg.append("text")
            .attr("transform", "translate(16.5," + (rowTop[p.row] + ph / 2) + ") rotate(-90)")
            .attr("text-anchor", "middle")
            .attr("font-size", 14.5)
            .text(rowLabels[p.row]);
    }

    // legend in last panel
    if (p.row === 2 && p.col === 1) {
        var leg = g.append("g").attr("transform", "translate(264,111)");
        var item = leg.selectAll("g").data(seriesNames).enter().append("g")
            .attr("transform", function (d, i) { return "translate(0," + (i * 15) + ")"; });
        item.append("rect")
            .attr("width", 20).attr("height", 7)
            .attr("fill", function (d, i) { return seriesColors[i]; })
            .attr("fill-opacity", 0.25);
        item.append("text")
            .attr("x", 28).attr("y", 7.5)
            .attr("font-size", 10)
            .text(function (d) { return d; });
    }
});
</script>
</body>
</html>
